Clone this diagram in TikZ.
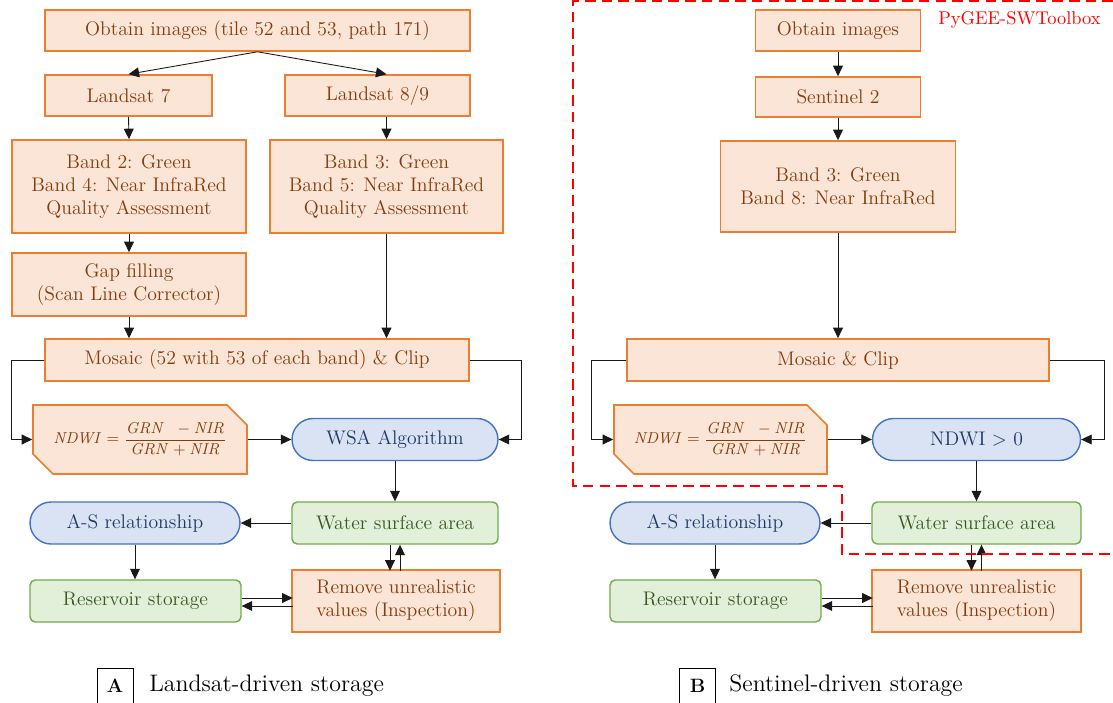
\documentclass[tikz,border=0pt]{standalone}
\usetikzlibrary{arrows.meta,calc,shapes.misc}
\definecolor{orfill}{HTML}{FBE5D6}
\definecolor{ordraw}{HTML}{ED7D31}
\definecolor{ortext}{HTML}{843C0C}
\definecolor{blfill}{HTML}{DAE3F3}
\definecolor{bldraw}{HTML}{4472C4}
\definecolor{bltext}{HTML}{1F3864}
\definecolor{grfill}{HTML}{E2F0D9}
\definecolor{grdraw}{HTML}{70AD47}
\definecolor{grtext}{HTML}{385723}
\newcommand{\ndwiformula}{\small$\mathit{NDWI}=\displaystyle\frac{\mathit{GRN}\;\;-\mathit{NIR}}{\mathit{GRN}+\mathit{NIR}}$}
\begin{document}
\begin{tikzpicture}[x=0.02cm,y=-0.02cm,
    font=\fontsize{11.2}{13.2}\selectfont,
    obox/.style={draw=ordraw,fill=orfill,text=ortext,line width=0.9pt,inner sep=0pt,align=center},
    gbox/.style={draw=grdraw,fill=grfill,text=grtext,line width=0.8pt,rounded corners=3pt,inner sep=0pt,align=center},
    bterm/.style={draw=bldraw,fill=blfill,text=bltext,line width=0.8pt,rounded corners=0.42cm,inner sep=0pt,align=center},
    fbox/.style={obox,chamfered rectangle,chamfered rectangle corners={north east,south west},chamfered rectangle xsep=0.2cm,chamfered rectangle ysep=0.2cm},
    arr/.style={-{Triangle[length=6pt,width=5.6pt]},black!90,line width=0.5pt},
    lbox/.style={draw,line width=0.5pt,minimum size=0.72cm,inner sep=0pt,font=\fontsize{11}{13}\selectfont\bfseries},
    ltext/.style={anchor=west,inner sep=0pt,font=\fontsize{13.6}{16}\selectfont}]
\useasboundingbox (0,0) rectangle (1113,703);
% panel A
\node[obox,minimum width=8.5cm,minimum height=0.82cm] (obtA) at (257.5,30.5) {Obtain images (tile 52 and 53, path 171)};
\node[obox,minimum width=3.34cm,minimum height=0.82cm] (lsSeven) at (128.5,95.5) {Landsat 7};
\node[obox,minimum width=3.7cm,minimum height=0.82cm] (lsEight) at (377.5,95.5) {Landsat 8/9};
\node[obox,minimum width=4.68cm,minimum height=1.86cm] (bandL7) at (129,186.5) {Band 2: Green\\Band 4: Near InfraRed\\Quality Assessment};
\node[obox,minimum width=4.66cm,minimum height=1.86cm] (bandL8) at (386.5,186.5) {Band 3: Green\\Band 5: Near InfraRed\\Quality Assessment};
\node[obox,minimum width=4.68cm,minimum height=1.26cm] (gapA) at (129,284.5) {Gap filling\\(Scan Line Corrector)};
\node[obox,minimum width=8.48cm,minimum height=0.84cm] (mosA) at (257,360) {Mosaic (52 with 53 of each band) \& Clip};
\node[fbox,minimum width=4.28cm,minimum height=1.38cm] (ndwiA) at (140,439.5) {\ndwiformula};
\node[bterm,minimum width=4.12cm,minimum height=0.84cm] (wsaA) at (395,439.5) {WSA Algorithm};
\node[bterm,minimum width=4.2cm,minimum height=0.84cm] (asA) at (135,523) {A-S relationship};
\node[gbox,minimum width=4.12cm,minimum height=0.84cm] (areaA) at (395,523) {Water surface area};
\node[gbox,minimum width=4.22cm,minimum height=0.84cm] (resA) at (135.5,601) {Reservoir storage};
\node[obox,minimum width=4.16cm,minimum height=1.24cm] (remA) at (396,601) {Remove unrealistic\\values (Inspection)};
\coordinate (lsEightTop) at (lsEight.north -| bandL8.north);
\draw[arr] (obtA.south) -- (lsSeven.north);
\draw[arr] (obtA.south) -- (lsEightTop);
\draw[arr] (lsSeven.south) -- (bandL7.north);
\draw[arr] (lsEight.south -| bandL8.north) -- (bandL8.north);
\draw[arr] (bandL7.south) -- (gapA.north);
\draw[arr] (gapA.south) -- (gapA.south |- mosA.north);
\draw[arr] (bandL8.south) -- (bandL8.south |- mosA.north);
\draw[arr] (mosA.west) -- ++(-33,0) |- (ndwiA.west);
\draw[arr] (mosA.east) -- ++(52,0) |- (wsaA.east);
\draw[arr] (ndwiA.east) -- (wsaA.west);
\draw[arr] (wsaA.south) -- (areaA.north);
\draw[arr] (areaA.west) -- (asA.east);
\draw[arr] (asA.south) -- (asA.south |- resA.north);
\draw[arr] ($(areaA.south)+(-5,0)$) -- ($(areaA.south)+(-5,26)$);
\draw[arr] ($(areaA.south)+(5,26)$) -- ($(areaA.south)+(5,0)$);
\draw[arr] ($(resA.east)+(0,-3)$) -- ($(resA.east)+(51,-3)$);
\draw[arr] ($(resA.east)+(51,5)$) -- ($(resA.east)+(0,5)$);
% panel B
\node[obox,minimum width=3.3cm,minimum height=0.82cm] (obtB) at (838,30.5) {Obtain images};
\node[obox,minimum width=3.3cm,minimum height=0.8cm] (senB) at (838,97) {Sentinel 2};
\node[obox,minimum width=4.7cm,minimum height=1.82cm] (bandS2) at (838,186.5) {Band 3: Green\\Band 8: Near InfraRed};
\node[obox,minimum width=8.44cm,minimum height=0.84cm] (mosB) at (838,360) {Mosaic \& Clip};
\node[fbox,minimum width=4.26cm,minimum height=1.38cm] (ndwiB) at (720.5,439.5) {\ndwiformula};
\node[bterm,minimum width=4.16cm,minimum height=0.84cm] (wsaB) at (976.5,439.5) {NDWI $>$ 0};
\node[bterm,minimum width=4.2cm,minimum height=0.84cm] (asB) at (715,523) {A-S relationship};
\node[gbox,minimum width=4.18cm,minimum height=0.84cm] (areaB) at (976.5,523) {Water surface area};
\node[gbox,minimum width=4.22cm,minimum height=0.84cm] (resB) at (715.5,601) {Reservoir storage};
\node[obox,minimum width=4.18cm,minimum height=1.24cm] (remB) at (976.5,601) {Remove unrealistic\\values (Inspection)};
\draw[arr] (obtB.south) -- (senB.north);
\draw[arr] (senB.south) -- (bandS2.north);
\draw[arr] (bandS2.south) -- (mosB.north);
\draw[arr] (mosB.west) -- ++(-35,0) |- (ndwiB.west);
\draw[arr] (mosB.east) -- ++(55,0) |- (wsaB.east);
\draw[arr] (ndwiB.east) -- (wsaB.west);
\draw[arr] (wsaB.south) -- (areaB.north);
\draw[arr] (areaB.west) -- (asB.east);
\draw[arr] (asB.south) -- (asB.south |- resB.north);
\draw[arr] ($(areaB.south)+(-5,0)$) -- ($(areaB.south)+(-5,26)$);
\draw[arr] ($(areaB.south)+(5,26)$) -- ($(areaB.south)+(5,0)$);
\draw[arr] ($(resB.east)+(0,-3)$) -- ($(resB.east)+(51,-3)$);
\draw[arr] ($(resB.east)+(51,5)$) -- ($(resB.east)+(0,5)$);
% toolbox boundary
\draw[red,line width=1.1pt,dash pattern=on 6pt off 3.5pt] (1113,1) -- (573,1) -- (573,486) -- (842,486) -- (842,554) -- (1113,554);
\node[text=red,anchor=east,inner sep=0pt,font=\fontsize{10.5}{12}\selectfont] (tbx) at (1101,20) {PyGEE-SWToolbox};
% legend
\node[lbox] (keyA) at (115,686) {A};
\node[ltext] (capA) at (149,686) {Landsat-driven storage};
\node[lbox] (keyB) at (697.5,686) {B};
\node[ltext] (capB) at (729,686) {Sentinel-driven storage};
\end{tikzpicture}
\end{document}
